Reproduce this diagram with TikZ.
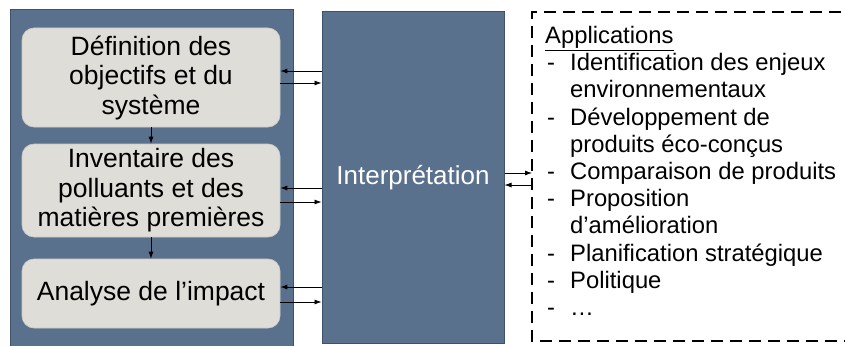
\documentclass[tikz,border=0pt]{standalone}
\usepackage{fontspec}
\setmainfont{Liberation Sans}
\usetikzlibrary{arrows.meta}
\definecolor{panelBlue}{RGB}{90,113,142}
\definecolor{panelEdge}{RGB}{62,82,108}
\definecolor{stepGray}{RGB}{223,221,215}
\definecolor{stepEdge}{RGB}{205,203,197}
\newcommand{\itemDash}{\makebox[25pt][l]{\hspace{2pt}-}}
\newcommand{\itemGap}{\makebox[25pt][l]{}}
\begin{document}
\begin{tikzpicture}
[x=1pt,y=-1pt,
  panelDecorate/.style={shape=rectangle,fill=panelBlue,draw=panelEdge,line width=1pt,inner sep=0pt},%
  stepDecorate/.style={shape=rectangle,rounded corners=12pt,fill=stepGray,draw=stepEdge,line width=0.6pt,
    minimum width=258pt,inner sep=0pt,align=center,font=\fontsize{26.5}{29.5}\selectfont},%
  arrowDecorate/.style={-{Latex[length=7pt,width=5pt]},line width=0.8pt,black},%
  listDecorate/.style={dashed,dash pattern=on 12pt off 7pt,line width=2.2pt}]
\useasboundingbox (0,0) rectangle (845,345);
%% panels
\node (lca) at (151.5,180) [panelDecorate,minimum width=283pt,minimum height=340pt] {};
\node (interp) at (413,177.5) [panelDecorate,minimum width=182pt,minimum height=331pt,
  text=white,font=\fontsize{26}{30}\selectfont] {Interprétation};
\draw[listDecorate] (860,12) -- (532,12) -- (532,341) -- (860,341);
\coordinate (apps) at (532,177.5);
%% steps
\node (def) at (151,77.5) [stepDecorate,minimum height=99pt] {Définition des\\objectifs et du\\système};
\node (inv) at (151,190.5) [stepDecorate,minimum height=93pt] {Inventaire des\\polluants et des\\matières premières};
\node (ana) at (151,293.5) [stepDecorate,minimum height=69pt] {Analyse de l’impact};
%% applications
\node (list) at (545,26) [anchor=north west,inner sep=0pt,align=left,
  font=\fontsize{23.8}{27.2}\selectfont] {%
  \underline{Applications}\\
  \itemDash Identification des enjeux\\
  \itemGap environnementaux\\
  \itemDash Développement de\\
  \itemGap produits éco-conçus\\
  \itemDash Comparaison de produits\\
  \itemDash Proposition\\
  \itemGap d’amélioration\\
  \itemDash Planification stratégique\\
  \itemDash Politique\\
  \itemDash …};
%% arrows
\draw[arrowDecorate] (def) -- (inv);
\draw[arrowDecorate] (inv) -- (ana);
\draw[arrowDecorate] ([yshift=6.5pt]def.east -| interp.west) -- ([yshift=6.5pt]def.east);
\draw[arrowDecorate] ([yshift=-5.5pt]def.east) -- ([yshift=-5.5pt]def.east -| interp.west);
\draw[arrowDecorate] ([yshift=2.5pt]inv.east -| interp.west) -- ([yshift=2.5pt]inv.east);
\draw[arrowDecorate] ([yshift=-11.5pt]inv.east) -- ([yshift=-11.5pt]inv.east -| interp.west);
\draw[arrowDecorate] ([yshift=6.5pt]ana.east -| interp.west) -- ([yshift=6.5pt]ana.east);
\draw[arrowDecorate] ([yshift=-8.5pt]ana.east) -- ([yshift=-8.5pt]ana.east -| interp.west);
\draw[arrowDecorate] ([yshift=4.5pt]interp.east) -- ([yshift=4.5pt]apps);
\draw[arrowDecorate] ([yshift=-7.5pt]apps) -- ([yshift=-7.5pt]interp.east);
\end{tikzpicture}
\end{document}
